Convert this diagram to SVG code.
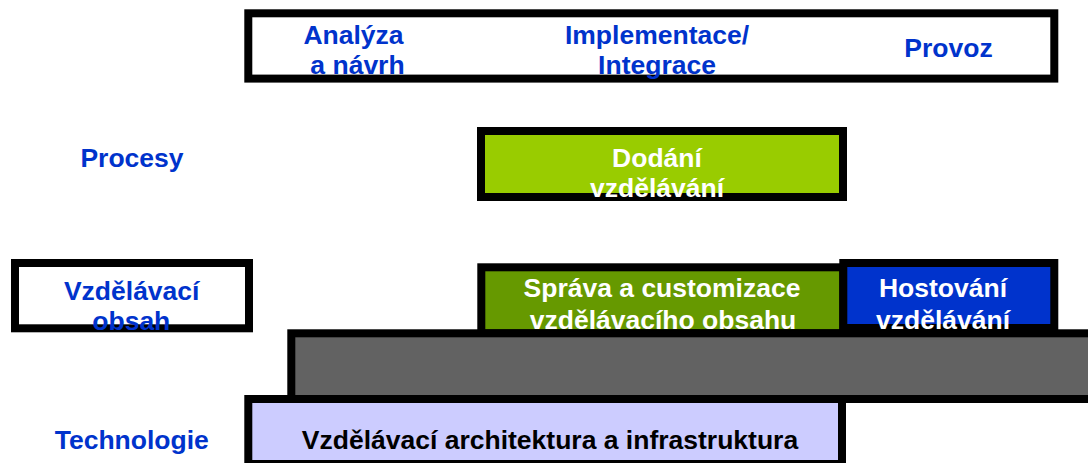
<svg xmlns="http://www.w3.org/2000/svg" width="1088" height="463" viewBox="0 0 1088 463">
<style>
.box{stroke:#000;stroke-width:8}
text{font-family:"Liberation Sans",Arial,sans-serif;font-weight:bold;font-size:26.5px;text-anchor:middle}
.b{fill:#0033CC}
.w{fill:#FFFFFF}
.k{fill:#000000}
</style>
<rect width="1088" height="463" fill="#FFFFFF"/>
<g id="phases">
<rect class="box" x="248.3" y="13.3" width="806" height="65.3" fill="#FFFFFF"/>
<text class="b" x="353.5" y="44">Analýza</text>
<text class="b" x="357.5" y="73.5">a návrh</text>
<text class="b" x="657" y="44">Implementace/</text>
<text class="b" x="657" y="73.5">Integrace</text>
<text class="b" x="948.5" y="57">Provoz</text>
</g>
<g id="label-procesy">
<text class="b" x="132" y="167">Procesy</text>
</g>
<g id="dodani">
<rect class="box" x="481" y="131" width="362" height="66" fill="#99CC00"/>
<text class="w" x="657" y="167">Dodání</text>
<text class="w" x="657" y="197">vzdělávání</text>
</g>
<g id="vzdelavaci-obsah">
<rect class="box" x="15" y="263" width="234" height="65.3" fill="#FFFFFF"/>
<text class="b" x="131.7" y="300">Vzdělávací</text>
<text class="b" x="131.3" y="330">obsah</text>
</g>
<g id="sprava">
<rect class="box" x="481.3" y="267.3" width="362" height="66" fill="#669900"/>
<text class="w" x="662" y="297">Správa a customizace</text>
<text class="w" x="663" y="329">vzdělávacího obsahu</text>
</g>
<g id="hostovani">
<rect class="box" x="843.3" y="263" width="211" height="65" fill="#0033CC"/>
<text class="w" x="943" y="297">Hostování</text>
<text class="w" x="943" y="329">vzdělávání</text>
</g>
<g id="architektura">
<rect class="box" x="248.3" y="399" width="593.7" height="65" fill="#CCCCFF"/>
<text class="k" x="550" y="449">Vzdělávací architektura a infrastruktura</text>
</g>
<g id="middleware">
<rect class="box" x="291.3" y="333.3" width="900" height="65.7" fill="#626262"/>
</g>
<g id="label-technologie">
<text class="b" x="131.8" y="449">Technologie</text>
</g>
<g id="connectors"></g>
</svg>
